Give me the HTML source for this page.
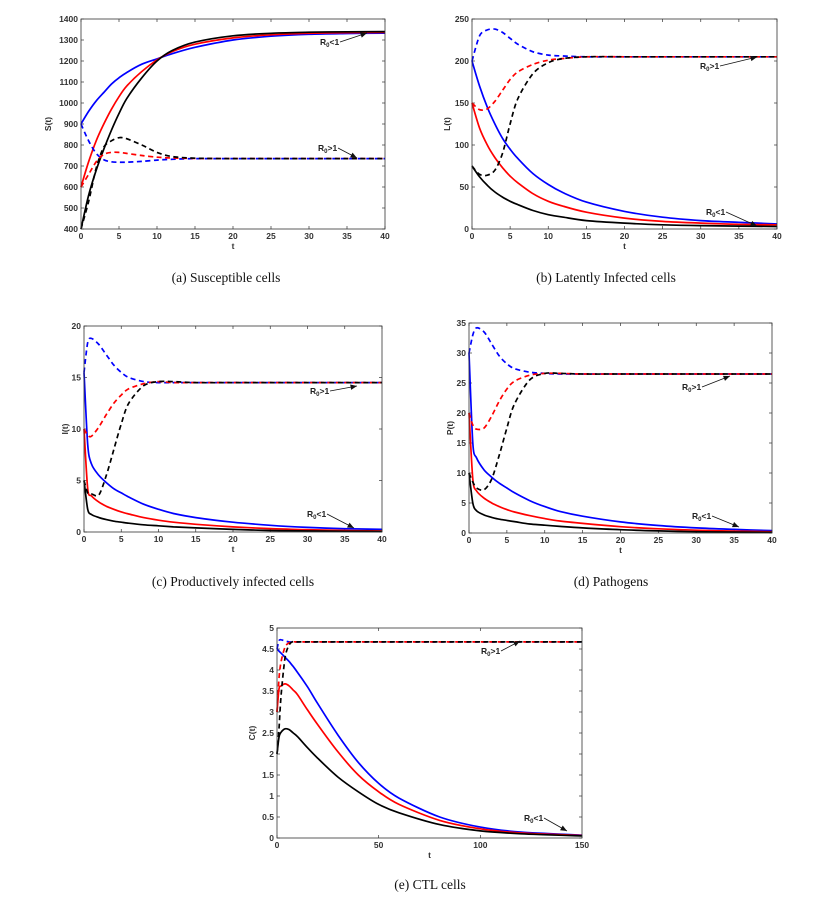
<!DOCTYPE html>
<html><head><meta charset="utf-8">
<style>
body{margin:0;background:#fff;width:818px;height:901px;overflow:hidden}
svg{display:block}
.tk{font-family:"Liberation Sans",sans-serif;font-size:8.5px;font-weight:bold;fill:#333}
.cap{font-family:"Liberation Serif",serif;font-size:13.5px;fill:#111}
.ann{font-family:"Liberation Sans",sans-serif;font-size:8.5px;font-weight:bold;fill:#222}
</style></head>
<body>
<svg id="root" width="818" height="901" xmlns="http://www.w3.org/2000/svg"></svg>
<script>
// ---- Panel A: Susceptible cells ----
const tA=[0,1,2,3,4,5,6,8,10,12,15,20,25,30,35,40];
const aBlackSolid=[400,560,680,780,870,950,1020,1120,1200,1250,1290,1320,1332,1337,1339,1340];
const aRedSolid=[600,720,820,900,970,1030,1080,1150,1205,1245,1280,1310,1325,1332,1335,1336];
const aBlueSolid=[900,960,1010,1050,1090,1120,1145,1185,1210,1235,1265,1300,1318,1327,1331,1333];
const aBlackDash=[400,530,690,790,820,835,830,800,765,745,737,735,735,735,735,735];
const aRedDash=[600,660,720,755,765,765,760,750,742,738,736,735,735,735,735,735];
const aBlueDash=[900,820,760,730,720,718,718,722,728,732,735,735,735,735,735,735];
const aYTicks=[400,500,600,700,800,900,1000,1100,1200,1300,1400];
// ---- Panel B: Latently infected ----
const bBlackSolid=[75,62,52,44,38,33,29,22,17,14,10,7,5,4,3.5,3];
const bRedSolid=[150,120,100,85,73,63,55,42,33,27,20,13,9,7,5.5,5];
const bBlueSolid=[200,170,145,125,108,95,84,66,53,43,32,21,14,10,8,6];
const bBlackDash=[75,65,64,70,90,125,155,185,198,203,205,205,205,205,205,205];
const bRedDash=[150,142,143,152,165,178,187,196,201,203,205,205,205,205,205,205];
const bBlueDash=[200,230,237,238,234,227,220,211,207,206,205,205,205,205,205,205];
const bYTicks=[0,50,100,150,200,250];
// ---- Panel C: Productively infected ----
const tC=[0,0.5,1,2,3,4,5,6,8,10,12,15,20,25,30,35,40];
const cBlackSolid=[5,2.2,1.7,1.4,1.2,1.05,0.95,0.85,0.7,0.6,0.5,0.4,0.25,0.15,0.1,0.07,0.05];
const cRedSolid=[10,4.2,3.5,2.9,2.5,2.2,1.95,1.75,1.4,1.15,0.95,0.75,0.5,0.33,0.22,0.15,0.1];
const cBlueSolid=[15.5,8.5,6.6,5.5,4.8,4.2,3.8,3.4,2.7,2.2,1.8,1.4,0.95,0.65,0.45,0.32,0.25];
const cBlackDash=[5,3.8,3.7,3.6,5.5,8,10.5,12.5,14.2,14.6,14.6,14.5,14.5,14.5,14.5,14.5,14.5];
const cRedDash=[10,9.4,9.3,10.2,11.4,12.5,13.3,13.9,14.4,14.6,14.5,14.5,14.5,14.5,14.5,14.5,14.5];
const cBlueDash=[15.5,18.4,18.8,18.2,17.2,16.2,15.5,15,14.6,14.5,14.5,14.5,14.5,14.5,14.5,14.5,14.5];
const cYTicks=[0,5,10,15,20];
// ---- Panel D: Pathogens ----
const dBlackSolid=[10,5,3.7,3,2.6,2.3,2.1,1.9,1.5,1.3,1.1,0.85,0.55,0.35,0.22,0.15,0.1];
const dRedSolid=[20,9,7,5.8,5,4.4,3.9,3.5,2.9,2.4,2,1.6,1.05,0.7,0.47,0.32,0.22];
const dBlueSolid=[30,15,12.5,10.5,9.3,8.3,7.5,6.7,5.4,4.4,3.6,2.8,1.85,1.25,0.85,0.6,0.4];
const dBlackDash=[10,8.5,7.5,7.2,9,13,17.5,21.5,25.5,26.6,26.6,26.5,26.5,26.5,26.5,26.5,26.5];
const dRedDash=[20,18,17.3,17.5,19.5,22,24,25.3,26.3,26.6,26.6,26.5,26.5,26.5,26.5,26.5,26.5];
const dBlueDash=[30,33,34.2,33.5,31.5,29.5,28.2,27.4,26.8,26.6,26.5,26.5,26.5,26.5,26.5,26.5,26.5];
const dYTicks=[0,5,10,15,20,25,30,35];
// ---- Panel E: CTL cells ----
const tE=[0,1,2,4,6,8,10,15,20,30,40,50,60,80,100,120,150];
const eBlackSolid=[2,2.4,2.52,2.6,2.58,2.5,2.42,2.15,1.9,1.45,1.1,0.8,0.6,0.32,0.17,0.1,0.05];
const eRedSolid=[3,3.55,3.62,3.67,3.62,3.52,3.42,3.05,2.7,2.05,1.5,1.1,0.8,0.42,0.22,0.12,0.06];
const eBlueSolid=[4.5,4.45,4.4,4.3,4.2,4.08,3.95,3.6,3.2,2.45,1.8,1.3,0.95,0.5,0.26,0.14,0.07];
const eBlackDash=[2,2.6,3.4,4.3,4.6,4.68,4.67,4.67,4.67,4.67,4.67,4.67,4.67,4.67,4.67,4.67,4.67];
const eRedDash=[3,3.8,4.2,4.55,4.65,4.67,4.67,4.67,4.67,4.67,4.67,4.67,4.67,4.67,4.67,4.67,4.67];
const eBlueDash=[4.5,4.7,4.72,4.69,4.67,4.67,4.67,4.67,4.67,4.67,4.67,4.67,4.67,4.67,4.67,4.67,4.67];
const eYTicks=[0,0.5,1,1.5,2,2.5,3,3.5,4,4.5,5];
const xTicks40=[0,5,10,15,20,25,30,35,40];
const xTicks150=[0,50,100,150];

const NS="http://www.w3.org/2000/svg";
const root=document.getElementById('root');
function mk(tag,attrs,parent){const e=document.createElementNS(NS,tag);for(const k in attrs)e.setAttribute(k,attrs[k]);(parent||root).appendChild(e);return e;}

function smoothPath(P){
  // monotone-ish Catmull-Rom with reduced tension
  let d='M'+P[0][0].toFixed(1)+','+P[0][1].toFixed(1);
  const k=0.15;
  for(let i=0;i<P.length-1;i++){
    const p0=P[Math.max(0,i-1)],p1=P[i],p2=P[i+1],p3=P[Math.min(P.length-1,i+2)];
    const c1x=p1[0]+(p2[0]-p0[0])*k,c1y=p1[1]+(p2[1]-p0[1])*k;
    const c2x=p2[0]-(p3[0]-p1[0])*k,c2y=p2[1]-(p3[1]-p1[1])*k;
    d+=`C${c1x.toFixed(1)},${c1y.toFixed(1)} ${c2x.toFixed(1)},${c2y.toFixed(1)} ${p2[0].toFixed(1)},${p2[1].toFixed(1)}`;
  }
  return d;
}

function panel(cfg){
  const g=mk('g',{});
  
  
  const {x0,x1,y0,y1,xmin,xmax,ymin,ymax}=cfg;
  const sx=v=>x0+(v-xmin)/(xmax-xmin)*(x1-x0);
  const sy=v=>y1-(v-ymin)/(ymax-ymin)*(y1-y0);
  cfg.xticks.forEach(t=>{
    const X=sx(t);
    mk('line',{x1:X,y1:y1,x2:X,y2:y1-3,stroke:'#333','stroke-width':0.7},g);
    mk('line',{x1:X,y1:y0,x2:X,y2:y0+3,stroke:'#333','stroke-width':0.7},g);
    const tx=mk('text',{x:X,y:y1+10,'text-anchor':'middle',class:'tk'},g);tx.textContent=t;
    
    
  });
  cfg.yticks.forEach(t=>{
    const Y=sy(t);
    mk('line',{x1:x0,y1:Y,x2:x0+3,y2:Y,stroke:'#333','stroke-width':0.7},g);
    mk('line',{x1:x1,y1:Y,x2:x1-3,y2:Y,stroke:'#333','stroke-width':0.7},g);
    const tx=mk('text',{x:x0-3,y:Y+3,'text-anchor':'end',class:'tk'},g);tx.textContent=t;
    
    
  });
  cfg.series.forEach(s=>{
    const pts=s.v.map((v,i)=>[sx(cfg.t[i]),sy(v)]);
    const p=mk('path',{d:smoothPath(pts),fill:'none',stroke:s.c,'stroke-width':1.7,'stroke-dasharray':s.dash?'5,3.5':'none','stroke-linejoin':'round'},g);
    
    
  });
  const fr=mk('rect',{x:x0,y:y0,width:x1-x0,height:y1-y0,fill:'none',stroke:'#333','stroke-width':0.8},g);
  
  
  const xl=mk('text',{x:(x0+x1)/2,y:y1+20,'text-anchor':'middle',class:'tk'},g);xl.textContent='t';
  
  
  const yx=x0-cfg.ylOff, yy=(y0+y1)/2;
  const yl=mk('text',{x:yx,y:yy,'text-anchor':'middle',class:'tk',transform:`rotate(-90 ${yx} ${yy})`},g);yl.textContent=cfg.ylabel;
  
  
  cfg.ann.forEach(a=>{
    const t=mk('text',{x:a[0],y:a[1],class:'ann'},g);
    t.innerHTML='R<tspan dy="2" font-size="6">0</tspan><tspan dy="-2">'+a[2]+'</tspan>';
    
    
    const ax=a[0]+20, ay=a[1]-3, bx=a[3], by=a[4];
    mk('line',{x1:ax,y1:ay,x2:bx,y2:by,stroke:'#111','stroke-width':0.8},g);
    const ang=Math.atan2(by-ay,bx-ax), L=7, w=0.4;
    mk('path',{d:`M${bx},${by}L${bx-L*Math.cos(ang-w)},${by-L*Math.sin(ang-w)}L${bx-L*Math.cos(ang+w)},${by-L*Math.sin(ang+w)}Z`,fill:'#111'},g);
  });
  const c=mk('text',{x:cfg.cap[0],y:cfg.cap[1],'text-anchor':'middle',class:'cap'},g);c.textContent=cfg.cap[2];
  
  
}
function ser(p,b,r,bl,bd,rd,bld){return [
 {n:'blue-solid',c:'#0000ff',v:bl},{n:'red-solid',c:'#ff0000',v:r},{n:'black-solid',c:'#000',v:b},
 {n:'blue-dashed',c:'#0000ff',v:bld,dash:1},{n:'red-dashed',c:'#ff0000',v:rd,dash:1},{n:'black-dashed',c:'#000',v:bd,dash:1}];}

panel({name:'panel-a-susceptible',x0:81,x1:385,y0:19,y1:229,xmin:0,xmax:40,ymin:400,ymax:1400,t:tA,xticks:xTicks40,yticks:aYTicks,ylabel:'S(t)',ylOff:30,
 series:ser('a',aBlackSolid,aRedSolid,aBlueSolid,aBlackDash,aRedDash,aBlueDash),
 ann:[[320,45,'<1',367,33],[318,151,'>1',357,158]],cap:[226,282,'(a)  Susceptible cells']});
panel({name:'panel-b-latent',x0:472,x1:777,y0:19,y1:229,xmin:0,xmax:40,ymin:0,ymax:250,t:tA,xticks:xTicks40,yticks:bYTicks,ylabel:'L(t)',ylOff:22,
 series:ser('b',bBlackSolid,bRedSolid,bBlueSolid,bBlackDash,bRedDash,bBlueDash),
 ann:[[700,69,'>1',757,57],[706,215,'<1',757,226]],cap:[606,282,'(b)  Latently Infected cells']});
panel({name:'panel-c-productive',x0:84,x1:382,y0:326,y1:532,xmin:0,xmax:40,ymin:0,ymax:20,t:tC,xticks:xTicks40,yticks:cYTicks,ylabel:'I(t)',ylOff:16,
 series:ser('c',cBlackSolid,cRedSolid,cBlueSolid,cBlackDash,cRedDash,cBlueDash),
 ann:[[310,394,'>1',357,386],[307,517,'<1',354,528]],cap:[233,586,'(c)  Productively infected cells']});
panel({name:'panel-d-pathogens',x0:469,x1:772,y0:323,y1:533,xmin:0,xmax:40,ymin:0,ymax:35,t:tC,xticks:xTicks40,yticks:dYTicks,ylabel:'P(t)',ylOff:16,
 series:ser('d',dBlackSolid,dRedSolid,dBlueSolid,dBlackDash,dRedDash,dBlueDash),
 ann:[[682,390,'>1',730,376],[692,519,'<1',739,527]],cap:[611,586,'(d)  Pathogens']});
panel({name:'panel-e-ctl',x0:277,x1:582,y0:628,y1:838,xmin:0,xmax:150,ymin:0,ymax:5,t:tE,xticks:xTicks150,yticks:eYTicks,ylabel:'C(t)',ylOff:22,
 series:ser('e',eBlackSolid,eRedSolid,eBlueSolid,eBlackDash,eRedDash,eBlueDash),
 ann:[[481,654,'>1',520,641],[524,821,'<1',567,831]],cap:[430,889,'(e)  CTL cells']});
</script>
</body></html>
